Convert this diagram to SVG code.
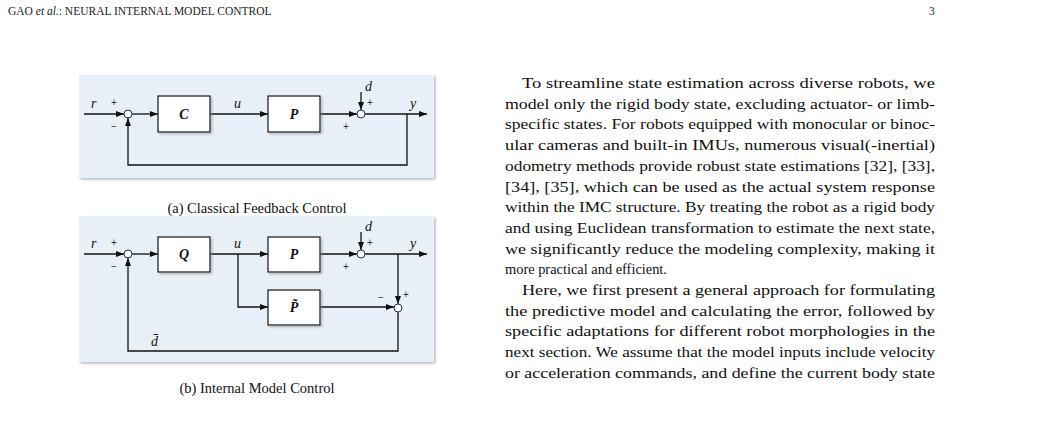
<svg xmlns="http://www.w3.org/2000/svg" width="1041" height="426" viewBox="0 0 1041 426">
<defs>
<marker id="ar" viewBox="0 0 8 6" refX="8" refY="3" markerWidth="8" markerHeight="6" markerUnits="userSpaceOnUse" orient="auto"><path d="M0,0 L8,3 L0,6 z" fill="#111"/></marker>
<filter id="sh" x="-10%" y="-10%" width="130%" height="130%"><feDropShadow dx="1.5" dy="1.5" stdDeviation="0.8" flood-color="#888" flood-opacity="0.6"/></filter>
</defs>
<style>
.panel{fill:#e8f0f7;filter:url(#sh)}
.box{fill:#fff;stroke:#111;stroke-width:1.2;filter:url(#sh)}
.sum{fill:#fff;stroke:#1a3a5a;stroke-width:1}
.ln{fill:none;stroke:#111;stroke-width:1.3}
.ar{marker-end:url(#ar)}
.v{font-family:"Liberation Serif",serif;font-style:italic;font-size:14px;fill:#111}
.b{font-family:"Liberation Serif",serif;font-style:italic;font-weight:bold;font-size:14px;fill:#111;text-anchor:middle}
.s{font-family:"Liberation Sans",sans-serif;font-size:10px;fill:#333}
.cap{font-family:"Liberation Serif",serif;font-size:14.5px;fill:#111;text-anchor:middle}
.t{font-family:"Liberation Serif",serif;font-size:14.4px;fill:#111}
.h{font-family:"Liberation Serif",serif;font-size:11.5px;fill:#222}
</style>
<text class="h" x="8" y="15">GAO <tspan font-style="italic">et al.</tspan>: NEURAL INTERNAL MODEL CONTROL</text>
<text class="h" x="929" y="15">3</text>

<rect class="panel" x="79" y="75" width="355" height="103"/>
<rect class="panel" x="79" y="216" width="355" height="146"/>

<g id="connectors">
<path class="ln ar" d="M84,114 H124"/>
<path class="ln ar" d="M132,114 H158"/>
<path class="ln ar" d="M210,114 H268"/>
<path class="ln ar" d="M320,114 H357"/>
<path class="ln ar" d="M365,114 H427"/>
<path class="ln ar" d="M361,92 V110"/>
<path class="ln ar" d="M407,114 V165 H128 V118"/>

<path class="ln ar" d="M84,254 H124"/>
<path class="ln ar" d="M132,254 H158"/>
<path class="ln ar" d="M210,254 H268"/>
<path class="ln ar" d="M238,254 V307 H268"/>
<path class="ln ar" d="M320,254 H357"/>
<path class="ln ar" d="M365,254 H427"/>
<path class="ln ar" d="M361,232 V250"/>
<path class="ln ar" d="M398,254 V304"/>
<path class="ln ar" d="M320,307 H394"/>
<path class="ln ar" d="M398,312 V351 H128 V258"/>
</g>

<g id="sum1a"><circle class="sum" cx="128" cy="114" r="4"/></g>
<g id="C"><rect class="box" x="158" y="96" width="52" height="36"/><text class="b" x="184" y="119">C</text></g>
<g id="Pa"><rect class="box" x="268" y="96" width="52" height="36"/><text class="b" x="294" y="119">P</text></g>
<g id="sum2a"><circle class="sum" cx="361" cy="114" r="4"/></g>

<g id="sum1b"><circle class="sum" cx="128" cy="254" r="4"/></g>
<g id="Q"><rect class="box" x="158" y="237" width="52" height="35"/><text class="b" x="184" y="259">Q</text></g>
<g id="Pb"><rect class="box" x="268" y="237" width="52" height="35"/><text class="b" x="294" y="259">P</text></g>
<g id="Pt"><rect class="box" x="268" y="290" width="52" height="35"/><text class="b" x="294" y="312">P̃</text></g>
<g id="sum2b"><circle class="sum" cx="361" cy="254" r="4"/></g>
<g id="sum3b"><circle class="sum" cx="398" cy="308" r="4"/></g>

<g id="labels">
<text class="v" x="91" y="108">r</text><text class="s" x="111" y="106">+</text><text class="s" x="111" y="130">−</text>
<text class="v" x="234" y="108">u</text>
<text class="v" x="365" y="91">d</text><text class="s" x="367" y="106">+</text><text class="s" x="343" y="130">+</text>
<text class="v" x="410" y="108">y</text>

<text class="v" x="91" y="248">r</text><text class="s" x="111" y="246">+</text><text class="s" x="111" y="270">−</text>
<text class="v" x="234" y="248">u</text>
<text class="v" x="365" y="231">d</text><text class="s" x="367" y="246">+</text><text class="s" x="343" y="270">+</text>
<text class="v" x="410" y="248">y</text>
<text class="s" x="403" y="298">+</text><text class="s" x="378" y="301">−</text>
<text class="v" x="151" y="346">d̄</text>
</g>

<text class="cap" x="257" y="213">(a) Classical Feedback Control</text>
<text class="cap" x="257" y="393">(b) Internal Model Control</text>

<g class="t">
<text x="522" y="88" textLength="413" lengthAdjust="spacingAndGlyphs">To streamline state estimation across diverse robots, we</text>
<text x="505" y="108.7" textLength="430" lengthAdjust="spacingAndGlyphs">model only the rigid body state, excluding actuator- or limb-</text>
<text x="505" y="129.4" textLength="430" lengthAdjust="spacingAndGlyphs">specific states. For robots equipped with monocular or binoc-</text>
<text x="505" y="150.1" textLength="430" lengthAdjust="spacingAndGlyphs">ular cameras and built-in IMUs, numerous visual(-inertial)</text>
<text x="505" y="170.8" textLength="430" lengthAdjust="spacingAndGlyphs">odometry methods provide robust state estimations [32], [33],</text>
<text x="505" y="191.5" textLength="430" lengthAdjust="spacingAndGlyphs">[34], [35], which can be used as the actual system response</text>
<text x="505" y="212.2" textLength="430" lengthAdjust="spacingAndGlyphs">within the IMC structure. By treating the robot as a rigid body</text>
<text x="505" y="232.9" textLength="430" lengthAdjust="spacingAndGlyphs">and using Euclidean transformation to estimate the next state,</text>
<text x="505" y="253.6" textLength="430" lengthAdjust="spacingAndGlyphs">we significantly reduce the modeling complexity, making it</text>
<text x="505" y="274.3">more practical and efficient.</text>
<text x="522" y="295" textLength="413" lengthAdjust="spacingAndGlyphs">Here, we first present a general approach for formulating</text>
<text x="505" y="315.7" textLength="430" lengthAdjust="spacingAndGlyphs">the predictive model and calculating the error, followed by</text>
<text x="505" y="336.4" textLength="430" lengthAdjust="spacingAndGlyphs">specific adaptations for different robot morphologies in the</text>
<text x="505" y="357.1" textLength="430" lengthAdjust="spacingAndGlyphs">next section. We assume that the model inputs include velocity</text>
<text x="505" y="377.8" textLength="430" lengthAdjust="spacingAndGlyphs">or acceleration commands, and define the current body state</text>
</g>
</svg>
